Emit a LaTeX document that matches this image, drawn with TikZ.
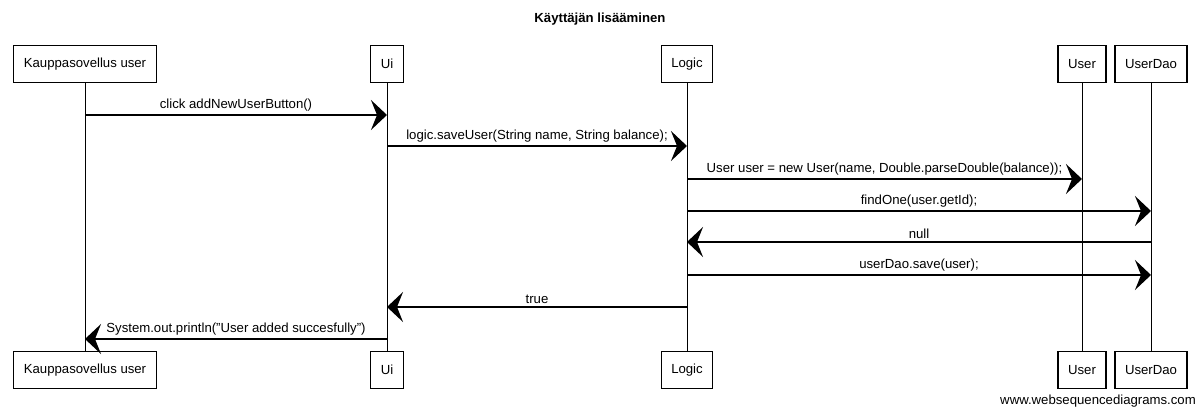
\documentclass[tikz,border=0pt]{standalone}
\usepackage{fontspec}
\setmainfont{Liberation Sans}
\usetikzlibrary{arrows.meta,positioning}
\tikzset{
  actor/.style={draw,line width=0.7pt,minimum height=0.74cm,inner xsep=0.2cm,font=\fontsize{7.5}{9}\selectfont},
  life/.style={line width=0.5pt},
  msg/.style={line width=0.8pt,-{Stealth[length=0.32cm,width=0.6cm,inset=0.12cm]}},
  lbl/.style={above,inner sep=1.5pt,font=\fontsize{7.5}{9}\selectfont}
}

\begin{document}
\begin{tikzpicture}[x=0.02cm,y=-0.02cm]
\useasboundingbox (0,0) rectangle (1200,411);
\node[font=\bfseries\fontsize{7.5}{9}\selectfont] (title) at (600,19) {Käyttäjän lisääminen};

% actors, top and bottom
\foreach \n/\x/\t in {kup/85/Kauppasovellus user, ui/387/Ui, logic/687/Logic, user/1082/User, dao/1151/UserDao}{
  \node[actor] (\n) at (\x,64) {\t};
  \node[actor] (\n-b) at (\x,370) {\t};
  \draw[life] (\n) -- (\n-b);
}

% messages
\draw[msg] (kup |- 0,115) -- node[lbl]{click addNewUserButton()} (ui |- 0,115);
\draw[msg] (ui |- 0,146) -- node[lbl]{logic.saveUser(String name, String balance);} (logic |- 0,146);
\draw[msg] (logic |- 0,179) -- node[lbl]{User user = new User(name, Double.parseDouble(balance));} (user |- 0,179);
\draw[msg] (logic |- 0,211) -- node[lbl]{findOne(user.getId);} (dao |- 0,211);
\draw[msg] (dao |- 0,242) -- node[lbl]{null} (logic |- 0,242);
\draw[msg] (logic |- 0,275) -- node[lbl]{userDao.save(user);} (dao |- 0,275);
\draw[msg] (logic |- 0,307) -- node[lbl]{true} (ui |- 0,307);
\draw[msg] (ui |- 0,339) -- node[lbl]{System.out.println("User added succesfully")} (kup |- 0,339);

\node[font=\fontsize{7.5}{9}\selectfont] (wsd) at (1098,401) {www.websequencediagrams.com};
\end{tikzpicture}
\end{document}
